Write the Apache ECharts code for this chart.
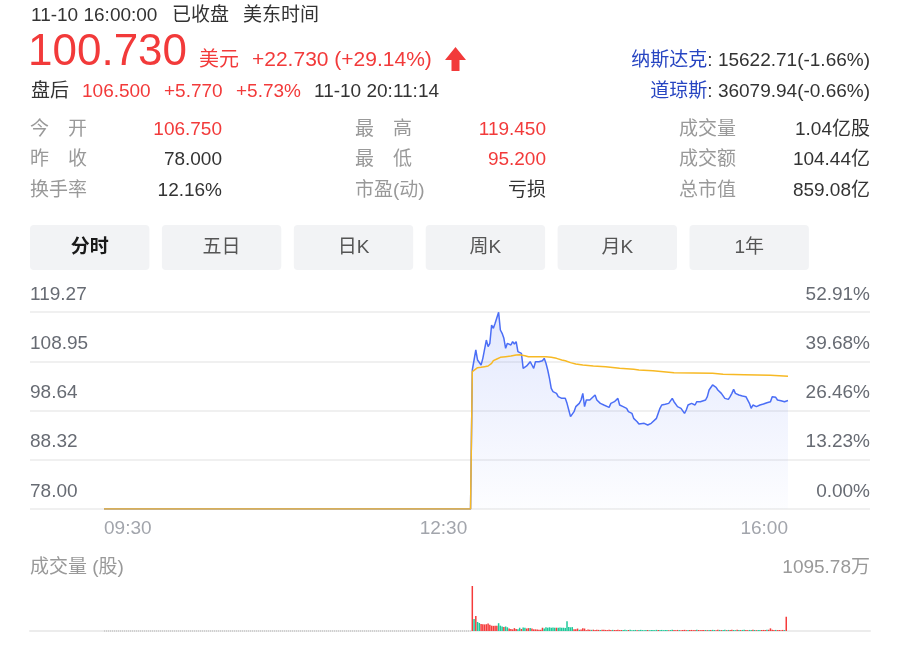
<!DOCTYPE html>
<html><head><meta charset="utf-8">
<script src="https://cdn.jsdelivr.net/npm/echarts/dist/echarts.min.js"></script>
<style>html,body{margin:0;padding:0;background:#fff}#c{width:918px;height:649px}</style>
</head><body><div id="c"></div>
<script>
// ---------- data ----------
const priceTickLabels = ["78.00", "88.32", "98.64", "108.95", "119.27"];
const pctTickLabels = ["0.00%", "13.23%", "26.46%", "39.68%", "52.91%"];
const priceMin = 78.00, priceMax = 119.27;
const timeTickLabels = ["09:30", "12:30", "16:00"];

const priceTimes = ["09:30","12:59","13:00","13:01","13:02","13:03","13:05","13:06","13:08","13:09","13:10","13:11","13:12","13:13","13:14","13:15","13:16","13:17","13:18","13:19","13:20","13:21","13:22","13:23","13:24","13:25","13:26","13:27","13:28","13:29","13:31","13:32","13:33","13:34","13:35","13:36","13:37","13:38","13:40","13:41","13:42","13:43","13:44","13:45","13:46","13:48","13:49","13:51","13:52","13:53","13:54","13:55","13:56","13:58","13:59","14:01","14:02","14:03","14:04","14:05","14:06","14:07","14:08","14:10","14:11","14:12","14:13","14:14","14:15","14:16","14:18","14:19","14:20","14:21","14:22","14:23","14:24","14:25","14:26","14:28","14:29","14:31","14:32","14:34","14:35","14:36","14:38","14:39","14:40","14:42","14:43","14:45","14:46","14:47","14:48","14:50","14:51","14:52","14:54","14:55","14:56","14:57","14:58","14:59","15:00","15:01","15:02","15:03","15:04","15:05","15:07","15:08","15:09","15:10","15:11","15:13","15:14","15:15","15:17","15:18","15:19","15:20","15:22","15:23","15:24","15:26","15:27","15:28","15:29","15:30","15:32","15:33","15:34","15:36","15:37","15:38","15:39","15:40","15:42","15:43","15:44","15:46","15:47","15:48","15:50","15:51","15:52","15:53","15:54","15:55","15:56","15:57","15:58","15:59","16:00"];
const prices = [78.00,78.00,
 107.12,107.47,111.31,109.21,108.17,109.56,113.40,112.01,112.71,116.55,115.85,116.90,117.24,119.20,115.50,114.80,113.75,111.66,112.71,112.85,112.36,113.06,112.57,113.06,110.96,111.31,110.61,107.47,
 107.96,107.82,108.86,108.17,107.47,108.86,108.66,108.86,
 109.07,109.56,108.52,107.12,105.37,103.28,102.58,
 102.23,101.53,
 101.18,100.83,101.18,100.13,98.74,97.34,
 98.39,99.44,
 100.13,100.83,102.23,99.44,100.83,100.83,100.83,101.18,
 101.88,100.83,100.48,100.13,100.48,99.79,100.13,
 99.30,100.13,99.79,100.48,100.13,101.18,99.79,99.79,99.44,
 99.09,98.39,
 98.04,96.99,
 96.29,95.81,96.09,
 95.95,96.09,95.60,
 95.95,96.29,
 96.99,98.04,99.09,99.79,
 99.93,100.13,100.13,
 101.18,100.48,100.13,99.44,99.79,99.09,98.74,98.04,98.74,99.79,99.79,100.13,
 99.79,100.48,100.13,100.48,100.83,
 100.83,101.53,102.93,
 103.98,103.63,103.49,102.93,
 102.23,101.88,101.18,
 100.97,101.53,102.23,103.07,102.23,
 101.88,101.53,101.67,
 101.53,101.18,100.13,99.09,99.79,
 99.44,99.58,99.79,
 100.00,100.13,100.27,
 100.48,101.53,101.18,101.39,100.83,100.97,100.69,100.83,100.48,100.69,100.73];

const avgTimes = ["09:30","12:59","13:00","13:01","13:03","13:05","13:07","13:09","13:11","13:12","13:14","13:16","13:19","13:22","13:25","13:27","13:30","13:32","13:36","13:42","13:45","13:48","13:51","13:53","13:56","13:59","14:03","14:09","14:16","14:24","14:32","14:35","14:43","14:55","15:06","15:17","15:23","15:35","15:50","15:51","16:00"];
const avgPrices = [78.00,78.00,106.77,107.12,107.61,107.68,107.82,107.96,108.52,109.07,109.42,109.77,109.91,110.05,110.26,110.33,110.12,109.91,109.91,109.91,109.77,109.56,109.21,109.07,108.66,108.38,108.17,107.96,107.82,107.47,107.26,107.12,106.98,106.56,106.49,106.42,106.21,106.14,106.00,105.86,105.79];

// volume (万股), one bar per minute starting at volStart
const volStart = "13:00";
const volumes = [1095.78,290,365,220,195,170,165,160,165,180,150,130,125,125,125,190,130,110,100,110,90,60,50,40,70,50,40,80,50,85,80,60,70,75,60,40,40,35,30,30,80,60,90,80,90,80,85,80,80,80,85,80,80,75,240,100,90,95,40,40,60,30,35,70,60,20,
 35,30,28,32,25,30,27,24,30,28,26,22,30,25,28,24,26,30,22,25,
 22,28,20,25,30,18,22,26,20,24,28,22,20,26,24,18,22,25,20,28,24,22,26,20,24,22,18,25,28,
 24,20,26,22,18,25,28,20,22,24,26,20,22,28,24,20,26,22,24,20,
 26,22,28,24,20,30,26,22,24,28,20,26,22,30,24,20,28,24,22,26,30,24,20,26,22,28,24,20,26,22,
 24,26,22,28,30,65,28,24,26,22,24,20,26,22,350];
const volUp = [1,0,1,0,0,1,1,1,1,1, 1,1,1,1,1,0,0,0,1,0, 0,1,1,1,1,1,0,0,1,0, 0,1,1,0,1,1,1,1,1,1, 1,0,0,0,0,0,0,0,1,0, 0,0,0,0,0,0,0,0,1,1, 1,0,1,1,1,1,
 1,1,0,1,1,1,1,0,1,1,1,1,1,1,0,1,1,1,1,1,
 0,0,0,1,0,0,0,0,1,0,0,0,0,0,1,0,0,0,0,0,1,0,0,0,0,0,1,0,0,
 1,1,1,0,1,1,1,1,0,1,1,1,1,0,1,1,1,1,0,1,
 0,1,0,0,1,1,0,1,0,0,1,0,1,1,0,0,1,0,1,0,0,1,1,0,0,1,0,1,0,0,
 1,1,1,0,1,1,1,1,0,1,1,1,1,0,1];
const volMax = 1095.78;
const haltTimes = ["09:30", "12:59"];

// ---------- helpers ----------
const toMin = s => { const p = s.split(':').map(Number); return p[0] * 60 + p[1] - 570; };
const tickMins = timeTickLabels.map(toMin);
const FONT = "'Liberation Sans', Arial, 'Noto Sans CJK SC', sans-serif";
const RED = '#f23a3a', DARK = '#333333', GRAY = '#999999';

function txt(x, y, text, size, fill, align, weight) {
  return { type: 'text', x: x, y: y, silent: true, z: 10,
    style: { text: text, font: (weight || 'normal') + ' ' + size + 'px ' + FONT, fill: fill,
      textAlign: align || 'left', align: align || 'left', textVerticalAlign: 'middle', verticalAlign: 'middle' } };
}
function richTxt(x, y, label, value) {
  return { type: 'text', x: x, y: y, silent: true, z: 10,
    style: { text: '{a|' + label + '}{b|: ' + value + '}', font: '19px ' + FONT,
      textAlign: 'right', align: 'right', textVerticalAlign: 'middle', verticalAlign: 'middle',
      rich: { a: { fill: '#2745c2', color: '#2745c2', font: '19px ' + FONT }, b: { fill: DARK, color: DARK, font: '19px ' + FONT } } } };
}

const graphics = [];
graphics.push(txt(31, 16, '11-10 16:00:00', 19, DARK));
graphics.push(txt(172, 16, '已收盘', 19, DARK));
graphics.push(txt(243, 16, '美东时间', 19, DARK));
graphics.push(txt(28, 53, '100.730', 44, RED));
graphics.push(txt(199, 60, '美元', 20, RED));
graphics.push(txt(252, 60, '+22.730 (+29.14%)', 21, RED));
graphics.push({ type: 'polygon', silent: true, z: 10,
  shape: { points: [[455.5, 47], [466, 60], [459.5, 60], [459.5, 71], [451.5, 71], [451.5, 60], [445, 60]] },
  style: { fill: RED } });
graphics.push(txt(31, 92, '盘后', 19, DARK));
graphics.push(txt(82, 92, '106.500', 19, RED));
graphics.push(txt(164, 92, '+5.770', 19, RED));
graphics.push(txt(236, 92, '+5.73%', 19, RED));
graphics.push(txt(314, 92, '11-10 20:11:14', 19, DARK));
graphics.push(richTxt(870, 61, '纳斯达克', '15622.71(-1.66%)'));
graphics.push(richTxt(870, 92, '道琼斯', '36079.94(-0.66%)'));

const statRows = [129.5, 160, 190.5];
const statCols = [
  { lx: 30, vx: 222, items: [['今\u3000开', '106.750', RED], ['昨\u3000收', '78.000', DARK], ['换手率', '12.16%', DARK]] },
  { lx: 355, vx: 546, items: [['最\u3000高', '119.450', RED], ['最\u3000低', '95.200', RED], ['市盈(动)', '亏损', DARK]] },
  { lx: 679, vx: 870, items: [['成交量', '1.04亿股', DARK], ['成交额', '104.44亿', DARK], ['总市值', '859.08亿', DARK]] }
];
statCols.forEach(c => c.items.forEach((it, r) => {
  graphics.push(txt(c.lx, statRows[r], it[0], 19, GRAY));
  graphics.push(txt(c.vx, statRows[r], it[1], 19, it[2], 'right'));
}));

const tabs = ['分时', '五日', '日K', '周K', '月K', '1年'];
tabs.forEach((name, i) => {
  const x0 = 30 + 131.9 * i;
  graphics.push({ type: 'rect', silent: true, z: 5, shape: { x: x0, y: 225, width: 119.4, height: 45, r: 4 }, style: { fill: '#f2f3f5' } });
  graphics.push(txt(x0 + 59.7, 247.5, name, 19, i === 0 ? '#1a1a1a' : '#555555', 'center', i === 0 ? 'bold' : 'normal'));
});

graphics.push(txt(30, 568, '成交量 (股)', 19, GRAY));
graphics.push(txt(870, 568, '1095.78万', 19, GRAY, 'right'));

// ---------- chart ----------
const chart = echarts.init(document.getElementById('c'), null, { renderer: 'canvas' });
const axisLabelBase = { fontSize: 19, fontFamily: FONT, color: '#676b73' };

const option = {
  animation: false,
  backgroundColor: '#fff',
  textStyle: { fontFamily: FONT },
  graphic: { elements: graphics },
  grid: [
    { left: 30, right: 48, top: 312, height: 197, outerBoundsMode: 'none' },
    { left: 104, right: 130, top: 312, height: 197, outerBoundsMode: 'none' },
    { left: 30, right: 48, top: 586, height: 45, outerBoundsMode: 'none' },
    { left: 104, right: 130, top: 586, height: 45, outerBoundsMode: 'none' }
  ],
  xAxis: [
    { gridIndex: 0, type: 'value', min: 0, max: 1, show: false },
    { gridIndex: 1, type: 'value', min: 0, max: 390, interval: 30,
      axisLine: { show: false }, axisTick: { show: false }, splitLine: { show: false },
      axisLabel: { formatter: v => { const i = tickMins.indexOf(v); return i < 0 ? '' : timeTickLabels[i]; },
        align: 'left', alignMaxLabel: 'right', margin: 10, color: '#a2a5ac', fontSize: 19, fontFamily: FONT } },
    { gridIndex: 2, type: 'value', min: 0, max: 1,
      axisLine: { show: true, lineStyle: { color: '#ececec', width: 2 } },
      axisTick: { show: false }, axisLabel: { show: false }, splitLine: { show: false } },
    { gridIndex: 3, type: 'value', min: 0, max: 390, show: false }
  ],
  yAxis: [
    { gridIndex: 0, type: 'value', min: 0, max: 4, interval: 1, position: 'left',
      axisLine: { show: false }, axisTick: { show: false },
      splitLine: { show: true, lineStyle: { color: '#f0f0f0', width: 2 } },
      axisLabel: Object.assign({ inside: true, margin: 0, verticalAlign: 'bottom', padding: [0, 0, 8, 0],
        formatter: v => priceTickLabels[v] }, axisLabelBase) },
    { gridIndex: 0, type: 'value', min: 0, max: 4, interval: 1, position: 'right',
      axisLine: { show: false }, axisTick: { show: false }, splitLine: { show: false },
      axisLabel: Object.assign({ inside: true, margin: 0, verticalAlign: 'bottom', padding: [0, 0, 8, 0],
        formatter: v => pctTickLabels[v] }, axisLabelBase) },
    { gridIndex: 1, type: 'value', min: priceMin, max: priceMax, show: false },
    { gridIndex: 2, type: 'value', min: 0, max: 1, show: false },
    { gridIndex: 3, type: 'value', min: 0, max: volMax, show: false }
  ],
  series: [
    { name: '价格', type: 'line', xAxisIndex: 1, yAxisIndex: 2, symbol: 'none', z: 3,
      data: priceTimes.map((t, i) => [toMin(t), prices[i]]),
      lineStyle: { color: '#4b6ef6', width: 1.5 }, itemStyle: { color: '#4b6ef6' },
      areaStyle: { color: new echarts.graphic.LinearGradient(0, 0, 0, 1, [
        { offset: 0, color: 'rgba(75,110,246,0.22)' }, { offset: 1, color: 'rgba(75,110,246,0.02)' }]) } },
    { name: '均价', type: 'line', xAxisIndex: 1, yAxisIndex: 2, symbol: 'none', z: 4,
      data: avgTimes.map((t, i) => [toMin(t), avgPrices[i]]),
      lineStyle: { color: '#f7b924', width: 1.5 }, itemStyle: { color: '#f7b924' } },
    { name: '停牌', type: 'line', xAxisIndex: 3, yAxisIndex: 4, symbol: 'none', z: 3,
      data: haltTimes.map(t => [toMin(t), 0]),
      lineStyle: { color: '#d0d0d0', width: 2, type: [1, 1] } },
    { name: '成交量', type: 'bar', xAxisIndex: 3, yAxisIndex: 4, barWidth: 1.5, z: 4,
      data: volumes.map((v, i) => ({ value: [toMin(volStart) + i, v],
        itemStyle: { color: volUp[i] ? '#f53b3b' : '#1ec99a' } })) }
  ]
};
chart.setOption(option);
</script>
</body></html>
